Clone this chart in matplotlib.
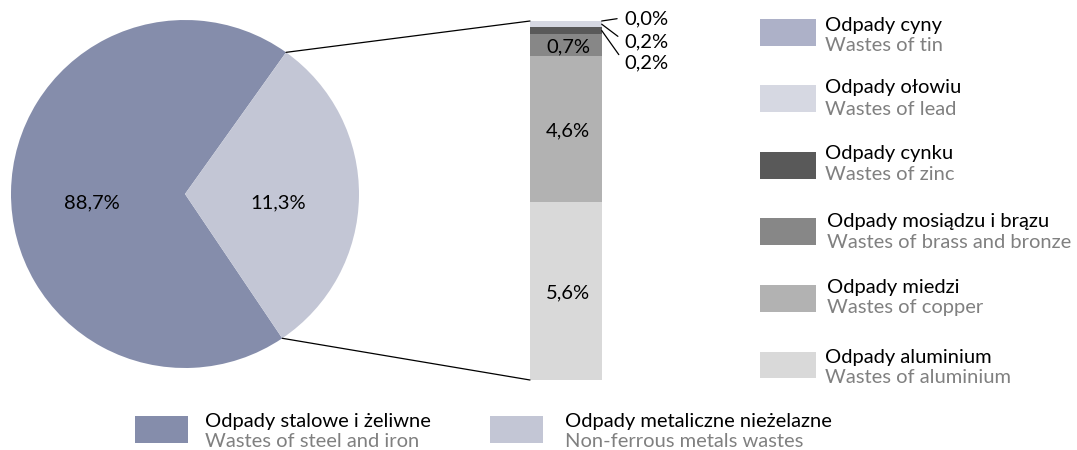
import matplotlib
matplotlib.use("Agg")
import matplotlib.pyplot as plt
from matplotlib.patches import Rectangle, ConnectionPatch
import numpy as np

plt.rcParams['font.family'] = ['Lato', 'DejaVu Sans']

# ---------------- data ----------------
pie_names_pl = ["Odpady stalowe i żeliwne", "Odpady metaliczne nieżelazne"]
pie_names_en = ["Wastes of steel and iron", "Non-ferrous metals wastes"]
pie_values = [88.7, 11.3]                 # values printed on the chart
pie_drawn_share = [69.3, 30.7]            # share of the circle the wedges cover in the reference
pie_labels = ["88,7%", "11,3%"]
pie_colors = ["#858dab", "#c3c6d5"]

# bar of pie, bottom -> top
bar_names_pl = ["Odpady aluminium", "Odpady miedzi", "Odpady mosiądzu i brązu",
                "Odpady cynku", "Odpady ołowiu", "Odpady cyny"]
bar_names_en = ["Wastes of aluminium", "Wastes of copper", "Wastes of brass and bronze",
                "Wastes of zinc", "Wastes of lead", "Wastes of tin"]
bar_values = [5.6, 4.6, 0.7, 0.2, 0.2, 0.0]
bar_labels = ["5,6%", "4,6%", "0,7%", "0,2%", "0,2%", "0,0%"]
bar_colors = ["#d9d9d9", "#b2b2b2", "#878787", "#595959", "#d6d8e2", "#adb1c8"]

W, H = 1077, 450
FS = 14.5
fig = plt.figure(figsize=(W / 100, H / 100), dpi=100)

def fbox(x0, y0, x1, y1):
    """pixel box (top-left origin) -> figure fraction rect"""
    return [x0 / W, 1 - y1 / H, (x1 - x0) / W, (y1 - y0) / H]

def fx(x):
    return x / W

def fy(y):
    return 1 - y / H

# ---------------- pie ----------------
ax_pie = fig.add_axes(fbox(11, 20, 359, 368))
wedges, _ = ax_pie.pie(pie_drawn_share, colors=pie_colors, startangle=54.5,
                       radius=1.0, wedgeprops=dict(linewidth=0))
ax_pie.set_xlim(-1, 1)
ax_pie.set_ylim(-1, 1)
ax_pie.set_aspect('equal')
ax_pie.axis('off')
for w, lab in zip(wedges, pie_labels):
    mid = np.deg2rad((w.theta1 + w.theta2) / 2)
    ax_pie.text(0.537 * np.cos(mid), -0.082, lab,
                ha='center', va='baseline', fontsize=FS, color='black')

# ---------------- bar ----------------
total = sum(bar_values)
ax_bar = fig.add_axes(fbox(530, 21, 601.7, 380))
bottom = 0.0
tops = []
for v, c in zip(bar_values, bar_colors):
    ax_bar.bar(0, v, bottom=bottom, width=1.0, color=c, linewidth=0)
    tops.append((bottom, bottom + v))
    bottom += v
ax_bar.set_xlim(-0.5, 0.5)
ax_bar.set_ylim(0, total)
ax_bar.axis('off')

# inner labels for the three largest segments
for i in range(3):
    b, t = tops[i]
    ax_bar.annotate(bar_labels[i], xy=(0.03, (b + t) / 2), xycoords='data',
                    xytext=(0, -0.36 * FS), textcoords='offset points',
                    ha='center', va='baseline', fontsize=FS, color='black')

# outside labels with leader lines (tin, lead, zinc)
for idx, ybase in [(5, 24.0), (4, 47.3), (3, 68.3)]:
    b, t = tops[idx]
    yv = t if idx == 5 else (b + t) / 2
    ax_bar.annotate(bar_labels[idx], xy=(0.5, yv), xycoords='data',
                    xytext=(624, H - ybase), textcoords='figure pixels',
                    ha='left', va='baseline', fontsize=FS, color='black',
                    arrowprops=dict(arrowstyle='-', color='black', lw=0.9,
                                    shrinkA=3, shrinkB=0, relpos=(0, 0.55)))

# connectors between the pie wedge and the bar
w_nf = wedges[1]
for ang, corner in [(w_nf.theta2, (0, 1)), (w_nf.theta1, (0, 0))]:
    a = np.deg2rad(ang)
    con = ConnectionPatch(xyA=(np.cos(a), np.sin(a)), coordsA=ax_pie.transData,
                          xyB=corner, coordsB=ax_bar.transAxes,
                          color='black', lw=0.9)
    fig.add_artist(con)

# ---------------- right legend (top -> bottom: tin ... aluminium) ----------------
patch_tops = [19, 85, 152, 218.3, 285, 351.7]
base1 = [30.7, 93.3, 159.3, 226.7, 292.7, 362.7]
base2 = [50.7, 115, 180, 248.3, 313.3, 383.3]
text_x = [825, 825, 825, 827.3, 827.3, 825]
order = list(range(len(bar_values)))[::-1]
for k, i in enumerate(order):
    y0 = patch_tops[k]
    fig.add_artist(Rectangle((fx(760), fy(y0 + 26.7)), 56 / W, 26.7 / H,
                             transform=fig.transFigure, color=bar_colors[i], lw=0))
    fig.text(fx(text_x[k]), fy(base1[k]), bar_names_pl[i], ha='left', va='baseline',
             fontsize=FS, color='black')
    fig.text(fx(text_x[k]), fy(base2[k]), bar_names_en[i], ha='left', va='baseline',
             fontsize=FS, color='#808080')

# ---------------- bottom legend ----------------
for x0, xt, c, pl, en in [(135, 205, pie_colors[0], pie_names_pl[0], pie_names_en[0]),
                          (490, 565, pie_colors[1], pie_names_pl[1], pie_names_en[1])]:
    fig.add_artist(Rectangle((fx(x0), fy(442.7)), 53 / W, 26.7 / H,
                             transform=fig.transFigure, color=c, lw=0))
    fig.text(fx(xt), fy(426.7), pl, ha='left', va='baseline', fontsize=FS, color='black')
    fig.text(fx(xt), fy(446.7), en, ha='left', va='baseline', fontsize=FS, color='#808080')

fig.savefig("out.png", dpi=100)
